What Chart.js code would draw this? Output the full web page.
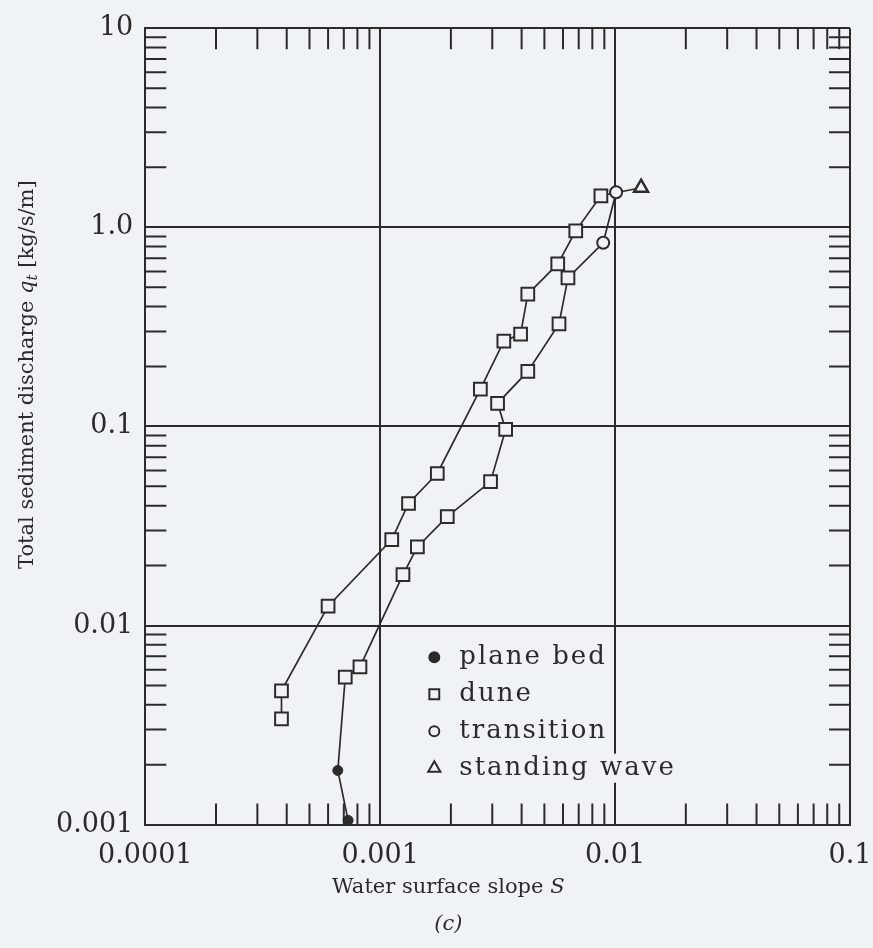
<!DOCTYPE html>
<html>
<head>
<meta charset="utf-8">
<script src="https://cdn.jsdelivr.net/npm/chart.js@4/dist/chart.umd.min.js"></script>
<style>
  html, body { margin: 0; padding: 0; background: #f0f3f6; }
</style>
</head>
<body>
<canvas id="grafico" width="873" height="948"></canvas>
<script>
// ejes (decadas y sus etiquetas)
const xDecadas = [0.0001, 0.001, 0.01, 0.1];
const xEtiquetas = ['0.0001', '0.001', '0.01', '0.1'];
const yDecadas = [0.001, 0.01, 0.1, 1, 10];
const yEtiquetas = ['0.001', '0.01', '0.1', '1.0', '10'];

// curva izquierda (pendiente S, descarga qt)
const curva1S = [0.00038, 0.00038, 0.0006, 0.00112, 0.00132, 0.00175, 0.00267, 0.00336, 0.00396, 0.00425, 0.0057, 0.0068, 0.0087, 0.0129];
const curva1Q = [0.0034, 0.0047, 0.0125, 0.027, 0.041, 0.058, 0.154, 0.268, 0.291, 0.462, 0.655, 0.96, 1.44, 1.58];

// curva derecha
const curva2S = [0.00073, 0.00066, 0.00071, 0.00082, 0.00125, 0.00144, 0.00193, 0.00295, 0.00342, 0.00316, 0.00425, 0.00577, 0.0063, 0.0089, 0.0101];
const curva2Q = [0.00105, 0.00187, 0.0055, 0.0062, 0.018, 0.0248, 0.0352, 0.0528, 0.0966, 0.1306, 0.189, 0.327, 0.557, 0.836, 1.5];

// puntos por tipo de lecho
const lechoPlanoS = [0.00073, 0.00066];
const lechoPlanoQ = [0.00105, 0.00187];

const dunaS = [0.00038, 0.00038, 0.0006, 0.00112, 0.00132, 0.00175, 0.00267, 0.00336, 0.00396, 0.00425, 0.0057, 0.0068, 0.0087,
  0.00071, 0.00082, 0.00125, 0.00144, 0.00193, 0.00295, 0.00342, 0.00316, 0.00425, 0.00577, 0.0063];
const dunaQ = [0.0034, 0.0047, 0.0125, 0.027, 0.041, 0.058, 0.154, 0.268, 0.291, 0.462, 0.655, 0.96, 1.44,
  0.0055, 0.0062, 0.018, 0.0248, 0.0352, 0.0528, 0.0966, 0.1306, 0.189, 0.327, 0.557];

const transicionS = [0.0089, 0.0101];
const transicionQ = [0.836, 1.5];

const ondaS = [0.0129];
const ondaQ = [1.58];

const leyenda = ['plane bed', 'dune', 'transition', 'standing wave'];

const puntos = (xs, ys) => xs.map((s, i) => ({ x: s, y: ys[i] }));
const esDecada = v => Math.abs(Math.log10(v) - Math.round(Math.log10(v))) < 1e-6;
const etiqueta = (v, decadas, textos) => {
  const i = decadas.findIndex(d => Math.abs(Math.log10(d) - Math.log10(v)) < 1e-6);
  return i >= 0 ? textos[i] : '';
};

const tinta = '#2b2b2b';
const fondo = '#f0f3f6';
const fuente = 'DejaVu Serif';

// marcas menores hacia dentro en los cuatro lados
const marcasMenores = {
  id: 'marcasMenores',
  beforeDatasetsDraw(chart, args, opts) {
    const { ctx, chartArea: ca, scales: { x, y } } = chart;
    ctx.save();
    ctx.strokeStyle = opts.color;
    ctx.lineWidth = opts.width;
    ctx.beginPath();
    xDecadas.slice(0, -1).forEach(dec => {
      for (let d = 2; d <= 9; d++) {
        const px = x.getPixelForValue(d * dec);
        ctx.moveTo(px, ca.bottom); ctx.lineTo(px, ca.bottom - opts.len);
        ctx.moveTo(px, ca.top); ctx.lineTo(px, ca.top + opts.len);
      }
    });
    yDecadas.slice(0, -1).forEach(dec => {
      for (let d = 2; d <= 9; d++) {
        const py = y.getPixelForValue(d * dec);
        ctx.moveTo(ca.left, py); ctx.lineTo(ca.left + opts.len, py);
        ctx.moveTo(ca.right, py); ctx.lineTo(ca.right - opts.len, py);
      }
    });
    ctx.stroke();
    ctx.restore();
  }
};

// leyenda dentro del area del grafico
const leyendaInterna = {
  id: 'leyendaInterna',
  afterDatasetsDraw(chart, args, opts) {
    const { ctx, chartArea: ca } = chart;
    ctx.save();
    ctx.font = opts.font;
    ctx.letterSpacing = opts.espacio;
    ctx.textBaseline = 'middle';
    leyenda.forEach((txt, i) => {
      const yy = ca.top + opts.top + i * opts.paso;
      const xm = ca.left + opts.left;
      const xt = xm + opts.hueco;
      const ancho = ctx.measureText(txt).width;
      ctx.fillStyle = fondo;
      ctx.fillRect(xt - 2, yy - opts.paso / 2 + 4, ancho + 4, opts.paso - 8);
      const ds = chart.data.datasets[i];
      ctx.fillStyle = ds.pointBackgroundColor;
      ctx.strokeStyle = tinta;
      ctx.lineWidth = 2;
      Chart.helpers.drawPoint(ctx, { pointStyle: ds.pointStyle, radius: opts.radios[i], borderWidth: 2 }, xm, yy);
      ctx.fillStyle = tinta;
      ctx.fillText(txt, xt, yy);
    });
    ctx.restore();
  }
};

// titulos de ejes (con S en cursiva y q subindice t)
const titulosEjes = {
  id: 'titulosEjes',
  afterDraw(chart, args, opts) {
    const { ctx, chartArea: ca } = chart;
    const normal = opts.tam + 'px "' + fuente + '"';
    const cursiva = 'italic ' + normal;
    const chica = 'italic ' + Math.round(opts.tam * 0.7) + 'px "' + fuente + '"';
    ctx.save();
    ctx.fillStyle = tinta;
    ctx.textBaseline = 'middle';

    // eje x
    const partesX = [['Water surface slope ', normal], ['S', cursiva]];
    let total = 0;
    partesX.forEach(([t, f]) => { ctx.font = f; total += ctx.measureText(t).width; });
    let px = ca.left + opts.xCentro * ca.width - total / 2;
    const py = ca.bottom + opts.xDist;
    partesX.forEach(([t, f]) => { ctx.font = f; ctx.fillText(t, px, py); px += ctx.measureText(t).width; });
    ctx.font = cursiva;
    ctx.textAlign = 'center';
    ctx.fillText('(c)', ca.left + opts.xCentro * ca.width, py + opts.sep);
    ctx.textAlign = 'left';

    // eje y (rotado)
    const partesY = [['Total sediment discharge ', normal, 0], ['q', cursiva, 0], ['t', chica, 5], [' [kg/s/m]', normal, 0]];
    total = 0;
    partesY.forEach(([t, f]) => { ctx.font = f; total += ctx.measureText(t).width; });
    ctx.translate(opts.yX, ca.top + opts.yCentro * ca.height);
    ctx.rotate(-Math.PI / 2);
    let q = -total / 2;
    partesY.forEach(([t, f, dy]) => { ctx.font = f; ctx.fillText(t, q, dy); q += ctx.measureText(t).width; });
    ctx.restore();
  }
};

const ctx = document.getElementById('grafico').getContext('2d');
new Chart(ctx, {
  type: 'scatter',
  data: {
    datasets: [
      { label: 'plane bed', data: puntos(lechoPlanoS, lechoPlanoQ), pointStyle: 'circle', pointRadius: 5,
        pointBackgroundColor: tinta, pointBorderColor: tinta, order: 1 },
      { label: 'dune', data: puntos(dunaS, dunaQ), pointStyle: 'rect', pointRadius: 9, pointBorderWidth: 2,
        pointBackgroundColor: fondo, pointBorderColor: tinta, order: 1 },
      { label: 'transition', data: puntos(transicionS, transicionQ), pointStyle: 'circle', pointRadius: 6, pointBorderWidth: 2,
        pointBackgroundColor: fondo, pointBorderColor: tinta, order: 1 },
      { label: 'standing wave', data: puntos(ondaS, ondaQ), pointStyle: 'triangle', pointRadius: 8, pointBorderWidth: 2.5,
        pointBackgroundColor: fondo, pointBorderColor: tinta, order: 1 },
      { label: 'curva 1', data: puntos(curva1S, curva1Q), showLine: true, pointRadius: 0,
        borderColor: tinta, borderWidth: 1.7, order: 2 },
      { label: 'curva 2', data: puntos(curva2S, curva2Q), showLine: true, pointRadius: 0,
        borderColor: tinta, borderWidth: 1.7, order: 2 }
    ]
  },
  options: {
    responsive: false,
    animation: false,
    devicePixelRatio: 1,
    layout: { padding: { left: 44, right: 23, top: 16, bottom: 61 } },
    plugins: {
      legend: { display: false },
      tooltip: { enabled: false },
      marcasMenores: { color: tinta, width: 2, len: 21 },
      leyendaInterna: { font: '26px "' + fuente + '"', espacio: '2px', top: 629, left: 289, hueco: 25, paso: 37,
        radios: [5, 7, 5, 7] },
      titulosEjes: { tam: 21, xCentro: 0.43, xDist: 63, sep: 37, yX: 28, yCentro: 0.435 }
    },
    scales: {
      x: {
        type: 'logarithmic',
        min: 0.0001, max: 0.1,
        afterFit: s => { s.paddingRight = 0; },
        grid: {
          color: c => (c.tick && esDecada(c.tick.value)) ? tinta : 'rgba(0,0,0,0)',
          lineWidth: 2, drawTicks: false
        },
        border: { color: tinta, width: 2 },
        ticks: {
          autoSkip: false, maxRotation: 0, padding: 15, color: tinta,
          font: { family: fuente, size: 27 },
          callback: v => etiqueta(v, xDecadas, xEtiquetas)
        }
      },
      y: {
        type: 'logarithmic',
        min: 0.001, max: 10,
        grid: {
          color: c => (c.tick && esDecada(c.tick.value)) ? tinta : 'rgba(0,0,0,0)',
          lineWidth: 2, drawTicks: false
        },
        border: { color: tinta, width: 2 },
        ticks: {
          autoSkip: false, padding: 12, color: tinta,
          font: { family: fuente, size: 27 },
          callback: v => etiqueta(v, yDecadas, yEtiquetas)
        }
      }
    }
  },
  plugins: [marcasMenores, leyendaInterna, titulosEjes]
});
</script>
</body>
</html>
